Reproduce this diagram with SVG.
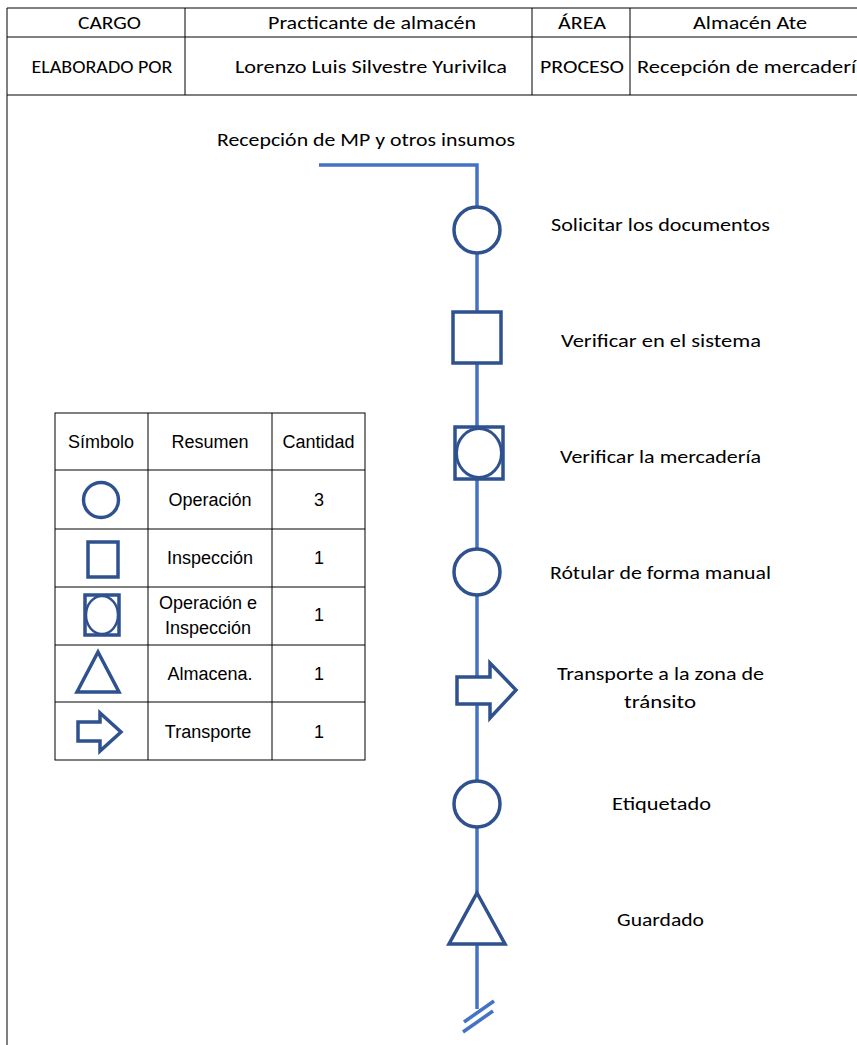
<svg xmlns="http://www.w3.org/2000/svg" width="857" height="1045" viewBox="0 0 857 1045">
  <style>
    .grid { fill: none; stroke: #000; stroke-width: 1; }
    .hdr { font-family: Carlito, Lato, "Liberation Sans", sans-serif; font-size: 18px; fill: #000; text-anchor: middle; }
    .lbl { font-family: Carlito, Lato, "Liberation Sans", sans-serif; font-size: 18.5px; fill: #000; text-anchor: middle; }
    .leg { font-family: "Liberation Sans", Arial, sans-serif; font-size: 18px; fill: #000; text-anchor: middle; }
    .flow { fill: none; stroke: #4472C4; stroke-width: 3.5; }
    .sym { fill: #fff; stroke: #2F528F; stroke-width: 3.5; }
  </style>
  <rect width="857" height="1045" fill="#fff"/>

  <!-- header table -->
  <g id="header">
    <line class="grid" x1="7" y1="8" x2="857" y2="8"/>
    <line class="grid" x1="7" y1="37" x2="857" y2="37"/>
    <line class="grid" x1="7" y1="95" x2="857" y2="95"/>
    <line class="grid" x1="7" y1="8" x2="7" y2="1045"/>
    <line class="grid" x1="185" y1="8" x2="185" y2="95"/>
    <line class="grid" x1="532" y1="8" x2="532" y2="95"/>
    <line class="grid" x1="630" y1="8" x2="630" y2="95"/>
    <text class="hdr" x="109.5" y="29" textLength="63" lengthAdjust="spacingAndGlyphs">CARGO</text>
    <text class="hdr" x="372" y="29" textLength="208" lengthAdjust="spacingAndGlyphs">Practicante de almacén</text>
    <text class="hdr" x="582" y="29" textLength="48" lengthAdjust="spacingAndGlyphs">ÁREA</text>
    <text class="hdr" x="750" y="29" textLength="114" lengthAdjust="spacingAndGlyphs">Almacén Ate</text>
    <text class="hdr" x="102" y="73" textLength="141" lengthAdjust="spacingAndGlyphs">ELABORADO POR</text>
    <text class="hdr" x="371" y="73" textLength="272" lengthAdjust="spacingAndGlyphs">Lorenzo Luis Silvestre Yurivilca</text>
    <text class="hdr" x="582" y="73" textLength="84" lengthAdjust="spacingAndGlyphs">PROCESO</text>
    <text class="hdr" x="637" y="73" style="text-anchor:start" textLength="230" lengthAdjust="spacingAndGlyphs">Recepción de mercadería</text>
  </g>

  <!-- flow connectors -->
  <g id="connectors">
    <polyline class="flow" points="319,165 477,165 477,1009"/>
    <line class="flow" x1="464" y1="1022" x2="494" y2="1001"/>
    <line class="flow" x1="463" y1="1032" x2="493" y2="1011"/>
  </g>

  <g id="start">
    <text class="lbl" x="366" y="146" textLength="298" lengthAdjust="spacingAndGlyphs">Recepción de MP y otros insumos</text>
  </g>

  <g id="step1">
    <circle class="sym" cx="477" cy="230" r="23"/>
    <text class="lbl" x="660.5" y="231" textLength="219" lengthAdjust="spacingAndGlyphs">Solicitar los documentos</text>
  </g>

  <g id="step2">
    <rect class="sym" x="453" y="312" width="48" height="51"/>
    <text class="lbl" x="661" y="347" textLength="200" lengthAdjust="spacingAndGlyphs">Verificar en el sistema</text>
  </g>

  <g id="step3">
    <rect class="sym" x="455" y="427" width="48" height="52"/>
    <ellipse cx="479" cy="453" rx="22.5" ry="24.5" fill="#fff" stroke="#2F528F" stroke-width="3"/>
    <text class="lbl" x="660.5" y="463" textLength="201" lengthAdjust="spacingAndGlyphs">Verificar la mercadería</text>
  </g>

  <g id="step4">
    <circle class="sym" cx="477" cy="572" r="23"/>
    <text class="lbl" x="660.5" y="579" textLength="221" lengthAdjust="spacingAndGlyphs">Rótular de forma manual</text>
  </g>

  <g id="step5">
    <polygon class="sym" points="457,677 490,677 490,663 516,690 490,718 490,704 457,704"/>
    <text class="lbl" x="660.5" y="680" textLength="207" lengthAdjust="spacingAndGlyphs">Transporte a la zona de</text>
    <text class="lbl" x="660" y="708" textLength="72" lengthAdjust="spacingAndGlyphs">tránsito</text>
  </g>

  <g id="step6">
    <circle class="sym" cx="477" cy="804" r="23"/>
    <text class="lbl" x="661.5" y="810" textLength="99" lengthAdjust="spacingAndGlyphs">Etiquetado</text>
  </g>

  <g id="step7">
    <polygon class="sym" points="477,893 505,944 449,944"/>
    <text class="lbl" x="660.5" y="926" textLength="87" lengthAdjust="spacingAndGlyphs">Guardado</text>
  </g>

  <!-- summary table -->
  <g id="summary">
    <rect class="grid" x="55" y="413" width="310" height="347"/>
    <line class="grid" x1="148" y1="413" x2="148" y2="760"/>
    <line class="grid" x1="272" y1="413" x2="272" y2="760"/>
    <line class="grid" x1="55" y1="470" x2="365" y2="470"/>
    <line class="grid" x1="55" y1="529" x2="365" y2="529"/>
    <line class="grid" x1="55" y1="587" x2="365" y2="587"/>
    <line class="grid" x1="55" y1="645" x2="365" y2="645"/>
    <line class="grid" x1="55" y1="702" x2="365" y2="702"/>

    <text class="leg" x="101" y="448">Símbolo</text>
    <text class="leg" x="210" y="448">Resumen</text>
    <text class="leg" x="318.5" y="448">Cantidad</text>

    <circle class="sym" cx="101" cy="500" r="17.5" stroke-width="3"/>
    <text class="leg" x="210" y="506">Operación</text>
    <text class="leg" x="319" y="506">3</text>

    <rect class="sym" x="88" y="542" width="30" height="35" stroke-width="3"/>
    <text class="leg" x="210" y="564">Inspección</text>
    <text class="leg" x="319" y="564">1</text>

    <rect class="sym" x="85" y="595" width="34" height="40" stroke-width="3"/>
    <ellipse cx="102" cy="615" rx="16" ry="19" fill="#fff" stroke="#2F528F" stroke-width="2.5"/>
    <text class="leg" x="208" y="609">Operación e</text>
    <text class="leg" x="208" y="634">Inspección</text>
    <text class="leg" x="319" y="621">1</text>

    <polygon class="sym" points="98,652 119,692 77,692" stroke-width="3"/>
    <text class="leg" x="210" y="680">Almacena.</text>
    <text class="leg" x="319" y="680">1</text>

    <polygon class="sym" points="78,722 100,722 100,713 121,732 100,751 100,741 78,741" stroke-width="3"/>
    <text class="leg" x="208" y="738">Transporte</text>
    <text class="leg" x="319" y="738">1</text>
  </g>
</svg>
